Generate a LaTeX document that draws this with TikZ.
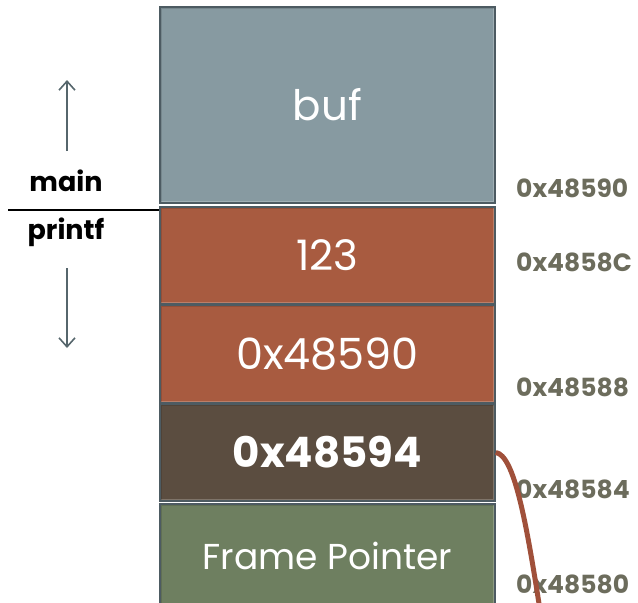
\documentclass[tikz,border=0pt]{standalone}
\usepackage{fontspec}
\setmainfont{Poppins}
\usetikzlibrary{arrows.meta}
\definecolor{bufc}{HTML}{879AA1}
\definecolor{rustc}{HTML}{A85B40}
\definecolor{retc}{HTML}{5B4D40}
\definecolor{fpc}{HTML}{6E7F60}
\definecolor{edgec}{HTML}{4D5B62}
\definecolor{addrc}{HTML}{6C6C5C}
\definecolor{linkc}{HTML}{A0503A}
\definecolor{growc}{HTML}{56666C}
\tikzset{
  cell/.style={draw=edgec, line width=1.5pt, minimum width=335pt, inner sep=0pt,
    text=white, font=\fontsize{42}{42}\selectfont,
    path picture={
      \draw[white, opacity=.22, line width=4pt]
        (path picture bounding box.north east) -- (path picture bounding box.south east)
        -- (path picture bounding box.south west);
      \draw[black, opacity=.12, line width=3pt]
        (path picture bounding box.south west) -- (path picture bounding box.north west)
        -- (path picture bounding box.north east);
    }},
  addr/.style={anchor=west, text=addrc, inner sep=0pt,
    font=\fontsize{25}{25}\selectfont\bfseries},
  framelbl/.style={inner sep=0pt, font=\fontsize{27}{27}\selectfont\bfseries},
  growarrow/.style={draw=growc, line width=1.6pt, -{Straight Barb[length=9pt,width=16pt,line width=1.6pt]}},
}
\begin{document}
\begin{tikzpicture}[x=1pt, y=-1pt]
\useasboundingbox (0,0) rectangle (638,603);
\begin{scope}
\clip (0,0) rectangle (638,603);
% stack cells, top of memory first
\node[cell, fill=bufc,  minimum height=196pt] (buf)  at (327.5,105)   {buf};
\node[cell, fill=rustc, minimum height=97pt]  (arg2) at (327.5,255.5) {123};
\node[cell, fill=rustc, minimum height=98pt, font=\fontsize{43}{43}\selectfont]
  (arg1) at (327.5,354) {0x48590};
\node[cell, fill=retc,  minimum height=97pt, font=\fontsize{42}{42}\selectfont\bfseries]
  (ret) at (327.5,452.5) {0x48594};
\node[cell, fill=fpc,   minimum height=104pt, font=\fontsize{36}{36}\selectfont]
  (fp) at (327.5,556) {Frame Pointer};
\end{scope}

% addresses of the cell boundaries
\node[addr] (a90) at (516,188) {0x48590};
\node[addr] (a8c) at (516,262) {0x4858C};
\node[addr] (a88) at (516,387) {0x48588};
\node[addr] (a84) at (516,489) {0x48584};
\node[addr] (a80) at (516,584) {0x48580};

% frame boundary between main and printf
\coordinate (divL) at (8,210);
\draw[black, line width=1.5pt] (divL) -- (divL -| arg2.west);
\node[framelbl] (mainlbl)   at (66,181) {main};
\node[framelbl] (printflbl) at (66,232) {printf};

% direction of growth
\coordinate (upA) at (67,151);
\coordinate (upB) at (67,80);
\coordinate (dnA) at (67,268);
\coordinate (dnB) at (67,348);
\draw[growarrow] (upA) -- (upB);
\draw[growarrow] (dnA) -- (dnB);

% saved return address link
\coordinate (linkEnd) at (540,610);
\begin{scope}
\clip (0,0) rectangle (638,603);
\draw[linkc, line width=5pt] (ret.east) .. controls (514,455) and (526,520) .. (linkEnd);
\end{scope}
\end{tikzpicture}
\end{document}
